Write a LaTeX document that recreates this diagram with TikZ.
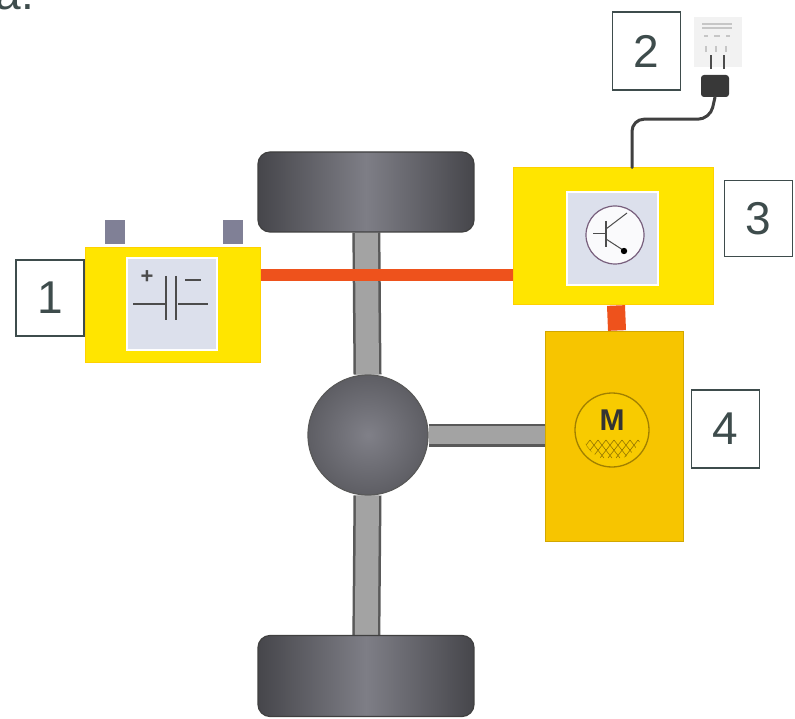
\documentclass[tikz,border=0pt]{standalone}
\usepackage{fontspec}
\setmainfont{Liberation Sans}
\usetikzlibrary{calc,backgrounds,positioning}

\definecolor{boxyellow}{RGB}{255,229,0}
\definecolor{motorgold}{RGB}{247,197,0}
\definecolor{wireorange}{RGB}{238,82,28}
\definecolor{panelgrey}{RGB}{220,224,236}
\definecolor{tyredark}{RGB}{70,70,75}
\definecolor{tyrelight}{RGB}{126,126,134}
\definecolor{labelgrey}{RGB}{62,76,76}
\definecolor{termgrey}{RGB}{128,128,150}

\begin{document}
\begin{tikzpicture}[x=1pt,y=-1pt,
  unit/.style={fill=boxyellow, draw=boxyellow!80!orange, line width=1pt, inner sep=0pt},
  panel/.style={fill=panelgrey, draw=white, line width=1.5pt, inner sep=0pt},
  tyre/.style={rounded corners=12pt, draw=black!75, line width=1.2pt,
    left color=tyredark, right color=tyredark, middle color=tyrelight,
    minimum width=216pt, inner sep=0pt},
  shaft/.style={draw=black!65, line width=2.5pt, double=gray!72, double distance=#1},
  shaft/.default=22pt,
  power/.style={wireorange, line width=#1},
  power/.default=12pt,
  tag/.style={draw=labelgrey, line width=1.3pt, fill=white, text=labelgrey,
    font=\fontsize{46}{46}\selectfont, minimum width=68pt, minimum height=76pt, inner sep=0pt},
  terminal/.style={fill=termgrey, minimum width=20pt, minimum height=24pt, inner sep=0pt},
  cable/.style={black!75, line width=3pt, line cap=round}
]
\useasboundingbox (0,0) rectangle (795,719);

\node[text=labelgrey, font=\fontsize{46}{46}\selectfont, anchor=base west] (caption) at (-8,10) {a.};

% wheels and differential
\node[tyre, minimum height=80pt] (tyretop) at (366,192) {};
\node[tyre, minimum height=81pt] (tyrebottom) at (366,676) {};
\node[circle, minimum size=120pt, draw=black!65, line width=1.2pt,
  inner color={rgb,255:red,128;green,128;blue,136},
  outer color={rgb,255:red,94;green,94;blue,100}] (diff) at (368,435) {};

% battery
\node[terminal] (plusterm) at (115,232) {};
\node[terminal] (minusterm) at (233,232) {};
\node[unit, minimum width=175pt, minimum height=114pt] (battery) at (172.5,305) {};
\node[panel, minimum width=90pt, minimum height=92pt] (cell) at (172,304) {};
\begin{scope}[shift={(cell.center)}, black!70, line width=1.6pt]
  \draw (-39,0) -- (-6,0) (6,0) -- (36,0);
  \draw (-6,-28) -- (-6,16) (4,-28) -- (4,16);
  \node[font=\bfseries\fontsize{22}{22}\selectfont, inner sep=0pt] (plussign) at (-25,-27) {+};
  \draw[line width=2.2pt] (13,-24) -- (29,-24);
\end{scope}

% inverter
\node[unit, minimum width=200pt, minimum height=137pt] (inverter) at (613,236.5) {};
\node[panel, minimum width=91pt, minimum height=93pt] (switchpanel) at (612.5,238.5) {};
\node[circle, minimum size=58pt, fill=white!85!panelgrey, draw={rgb,255:red,120;green,95;blue,125}, line width=1.2pt] (transistor) at (615,235) {};
\begin{scope}[shift={(transistor.center)}, black!70, line width=1pt]
  \draw (-22,-1) -- (-9,-1);
  \draw[line width=1.6pt] (-9,-14) -- (-9,12);
  \draw (-9,-6) -- (12,-22);
  \draw (-9,4) -- (11,17);
  \fill[black] (9,16) circle (3.2);
\end{scope}

% motor
\node[unit, fill=motorgold, draw=motorgold!85!black, minimum width=138pt, minimum height=210pt] (motor) at (614,436) {};
\node[circle, minimum size=74pt, draw=motorgold!65!black, line width=1.3pt, fill=motorgold!90!yellow] (rotor) at (612,430) {};
\begin{scope}
  \clip (rotor.center) circle (30);
  \foreach \dx in {-30,-22,...,30}
    \draw[motorgold!60!black, line width=.6pt] ([shift={(\dx,10)}]rotor.center) -- ++(14,18) ([shift={(\dx,10)}]rotor.center) -- ++(-14,18);
\end{scope}
\node[font=\bfseries\fontsize{30}{30}\selectfont, text=black!80, inner sep=0pt] (mlabel) at (612,420) {M};

% mains socket and plug
\node[fill=gray!10, minimum width=48pt, minimum height=50pt, inner sep=0pt] (socket) at (718,42) {};
\begin{scope}[shift={(socket.center)}, gray!45, line width=1.2pt]
  \draw (-16,-18) -- (14,-18) (-16,-14) -- (14,-14);
  \draw (-14,-6) -- (-10,-6) (-4,-6) -- (2,-6) (8,-6) -- (12,-6);
  \draw (-12,4) -- (-12,10) (-2,4) -- (-2,10) (8,4) -- (8,10);
\end{scope}
\draw[black!70, line width=2pt] ([shift={(-7,-12)}]socket.south) -- ++(0,14) ([shift={(6,-12)}]socket.south) -- ++(0,14);
\node[fill=black!78, rounded corners=3pt, minimum width=28pt, minimum height=22pt, inner sep=0pt] (plug) at (715,86) {};

% label tags
\node[tag, left=0pt of battery, yshift=7pt] (tag1) {1};
\node[tag, left=13pt of socket, yshift=-9pt, minimum height=78pt] (tag2) {2};
\node[tag, right=10pt of inverter, yshift=18pt] (tag3) {3};
\node[tag, right=7pt of motor, yshift=7pt, minimum height=78pt] (tag4) {4};

% connections
\draw[power] ([yshift=30pt]battery.east) -- ([yshift=30pt]battery.east -| inverter.west);
\draw[power=18pt] ([xshift=3pt]inverter.south) -- ([xshift=3pt]motor.north);
\draw[cable, rounded corners=12pt] (plug.south) -- ++(-5,22) -| ([xshift=19pt]inverter.north);

\begin{scope}[on background layer]
  \fill[white] (0,0) rectangle (795,719);
  \draw[shaft=23pt] (tyretop) -- (diff) -- (tyrebottom);
  \draw[shaft=18pt] (diff) -- (diff -| motor.west);
\end{scope}
\end{tikzpicture}
\end{document}
